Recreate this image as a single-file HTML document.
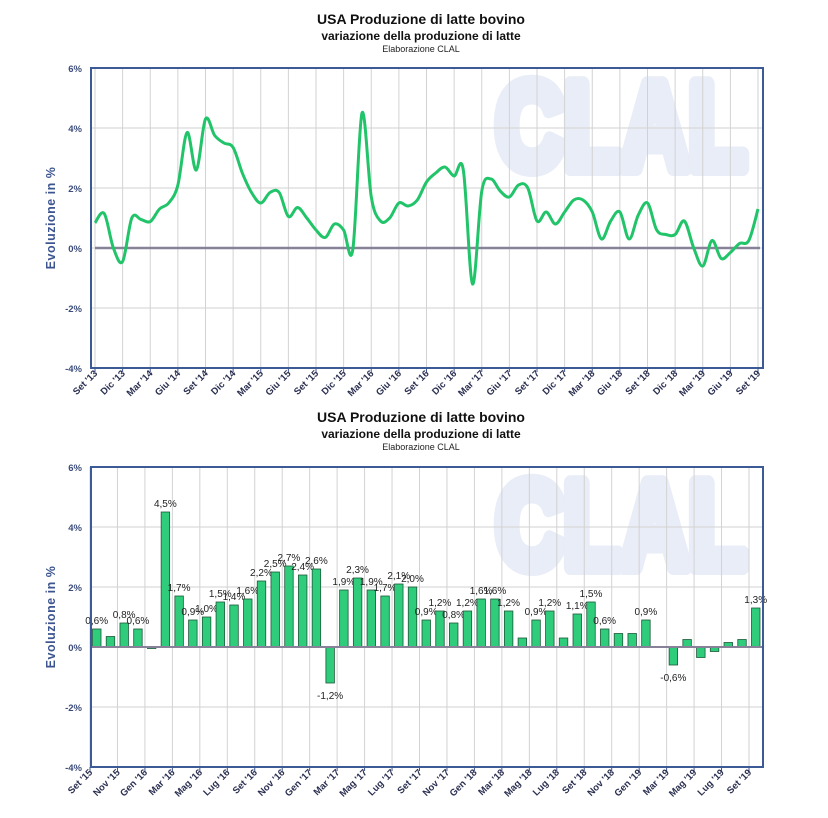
<!DOCTYPE html>
<html><head><meta charset="utf-8">
<style>
html,body{margin:0;padding:0;background:#fff;}
svg{display:block;font-family:"Liberation Sans",sans-serif;}
</style></head>
<body>
<svg id="s" width="828" height="818" xmlns="http://www.w3.org/2000/svg"></svg>
<script>
const S=document.getElementById('s');const NS='http://www.w3.org/2000/svg';
function el(t,a,txt){const e=document.createElementNS(NS,t);for(const k in a)e.setAttribute(k,a[k]);if(txt!==undefined)e.textContent=txt;S.appendChild(e);return e;}
const M=['Gen','Feb','Mar','Apr','Mag','Giu','Lug','Ago','Set','Ott','Nov','Dic'];
const bars=[0.6,0.35,0.8,0.6,-0.05,4.5,1.7,0.9,1.0,1.5,1.4,1.6,2.2,2.5,2.7,2.4,2.6,-1.2,1.9,2.3,1.9,1.7,2.1,2.0,0.9,1.2,0.8,1.2,1.6,1.6,1.2,0.3,0.9,1.2,0.3,1.1,1.5,0.6,0.45,0.45,0.9,0.02,-0.6,0.25,-0.35,-0.15,0.15,0.25,1.3];
const early=[0.84,1.15,0.0,-0.45,1.0,0.95,0.88,1.3,1.5,2.1,3.85,2.6,4.3,3.75,3.5,3.35,2.5,1.85,1.5,1.85,1.85,1.05,1.35,1.0];
const line=early.concat(bars);
function titles(y){
 el('text',{x:421,y:y,'text-anchor':'middle','font-size':14,'font-weight':'bold',fill:'#111'},'USA Produzione di latte bovino');
 el('text',{x:421,y:y+16,'text-anchor':'middle','font-size':12,'font-weight':'bold',fill:'#111'},'variazione della produzione di latte');
 el('text',{x:421,y:y+28,'text-anchor':'middle','font-size':9,fill:'#222'},'Elaborazione CLAL');
}
function frame(top,x0,step,n,startM,startY,every){
 const L=91,R=763,B=top+300;
 el('text',{x:496,y:top+100,'font-size':122,'font-weight':'bold',fill:'#e9edf7',stroke:'#e9edf7','stroke-width':16,'stroke-linejoin':'round',textLength:250,lengthAdjust:'spacingAndGlyphs'},'CLAL');
 for(let k=0;k<=n;k+=every){const x=x0+k*step;el('line',{x1:x,y1:top,x2:x,y2:B,stroke:'#d2d2d2','stroke-width':1});}
 for(let v=-2;v<=4;v+=2){const y=top+180-v*30;el('line',{x1:L,y1:y,x2:R,y2:y,stroke:'#d2d2d2','stroke-width':1});}
 for(let v=-4;v<=6;v+=2){const y=top+180-v*30;el('text',{x:82,y:y+4,'text-anchor':'end','font-size':9.5,'font-weight':'bold',fill:'#3c4d7c'},v+'%');}
 el('text',{transform:`translate(55,${top+150}) rotate(-90)`,'text-anchor':'middle','font-size':12.5,'font-weight':'bold',fill:'#3c5590','letter-spacing':'0.5'},'Evoluzione in %');
 for(let k=0;k<=n;k+=every){const x=x0+k*step;const mi=(startM+k)%12;const yr=startY+Math.floor((startM+k)/12);
  el('line',{x1:x,y1:B,x2:x,y2:B+4,stroke:'#3c5590','stroke-width':1});
  el('text',{transform:`translate(${x+3},${B+6}) rotate(-45)`,'text-anchor':'end','font-size':9.5,'font-weight':'bold',fill:'#2a2f50'},M[mi]+" '"+String(yr%100).padStart(2,'0'));}
 return {L,R,B};
}
function border(top){el('rect',{x:91,y:top,width:672,height:300,fill:'none',stroke:'#3c5a96','stroke-width':2});}
titles(24);
let T=68;frame(T,95,663/72,72,8,2013,3);
const pts=line.map((v,i)=>[95+i*663/72,T+180-v*30]);
let d='M'+pts[0][0]+','+pts[0][1];
for(let i=0;i<pts.length-1;i++){const p0=pts[Math.max(0,i-1)],p1=pts[i],p2=pts[i+1],p3=pts[Math.min(pts.length-1,i+2)];
 const c1=[p1[0]+(p2[0]-p0[0])/6,p1[1]+(p2[1]-p0[1])/6],c2=[p2[0]-(p3[0]-p1[0])/6,p2[1]-(p3[1]-p1[1])/6];
 d+=` C${c1[0].toFixed(1)},${c1[1].toFixed(1)} ${c2[0].toFixed(1)},${c2[1].toFixed(1)} ${p2[0].toFixed(1)},${p2[1].toFixed(1)}`;}
el('line',{x1:95,y1:T+180,x2:760,y2:T+180,stroke:'#888299','stroke-width':2.5});
el('path',{d:d,fill:'none',stroke:'#22c46a','stroke-width':3,'stroke-linejoin':'round'});
border(T);
titles(422);
T=467;const st=659/48;frame(T,90,st,48,8,2015,2);
const lbl={0:'0,6',2:'0,8',3:'0,6',5:'4,5',6:'1,7',7:'0,9',8:'1,0',9:'1,5',10:'1,4',11:'1,6',12:'2,2',13:'2,5',14:'2,7',15:'2,4',16:'2,6',17:'-1,2',18:'1,9',19:'2,3',20:'1,9',21:'1,7',22:'2,1',23:'2,0',24:'0,9',25:'1,2',26:'0,8',27:'1,2',28:'1,6',29:'1,6',30:'1,2',32:'0,9',33:'1,2',35:'1,1',36:'1,5',37:'0,6',40:'0,9',42:'-0,6',48:'1,3'};
bars.forEach((v,i)=>{const x=90+i*st+2.5;const y0=T+180,y=y0-v*30;
 el('rect',{x:x,y:Math.min(y,y0),width:8.5,height:Math.max(Math.abs(v*30),0.8),fill:'#2ecc7b',stroke:'#1d5a3a','stroke-width':0.8});
 if(lbl[i]!==undefined){const ty=v<0?y+16:y-5;el('text',{x:x+4.2,y:ty,'text-anchor':'middle','font-size':10,fill:'#222'},lbl[i]+'%');}
});
el('line',{x1:91,y1:T+180,x2:763,y2:T+180,stroke:'#888299','stroke-width':2});
border(T);
</script>
</body></html>
